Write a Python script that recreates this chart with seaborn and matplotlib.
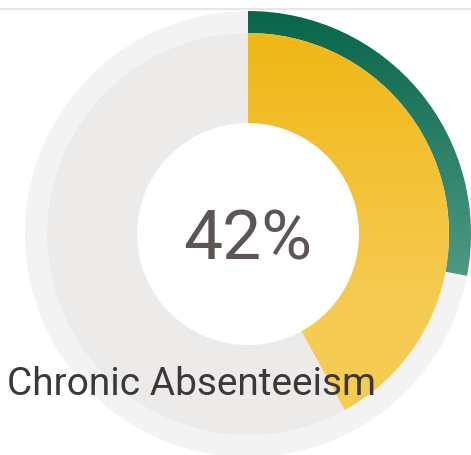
import numpy as np
import matplotlib
matplotlib.use("Agg")
import matplotlib.pyplot as plt
import seaborn as sns
from matplotlib.colors import LinearSegmentedColormap

# Data
metric_label = "Chronic Absenteeism"
metric_value = [42]          # inner ring (yellow), percent
comparison_value = [28]      # outer ring (green), percent
value_text = "42%"

sns.set_theme(style="white")
plt.rcParams["font.family"] = ["Roboto", "DejaVu Sans"]

W, H = 471, 456
fig = plt.figure(figsize=(W / 100, H / 100), dpi=100)
ax = fig.add_axes([0, 0, 1, 1])
ax.set_xlim(0, W)
ax.set_ylim(0, H)
ax.axis("off")

cx, cy = 248, H - 235
R_out, R_mid, R_in = 223, 201, 111

# pale outer track
ax.pie([100], radius=R_out, center=(cx, cy), colors=["#f4f3f4"],
       wedgeprops=dict(width=R_out - R_mid, linewidth=0), startangle=90)
# green outer arc
gw, _ = ax.pie([comparison_value[0], 100 - comparison_value[0]], radius=R_out,
               center=(cx, cy), colors=["none", "none"], startangle=90,
               counterclock=False,
               wedgeprops=dict(width=R_out - R_mid, linewidth=0))
# inner ring
iw, _ = ax.pie([metric_value[0], 100 - metric_value[0]], radius=R_mid,
               center=(cx, cy), colors=["none", "#ecebea"], startangle=90,
               counterclock=False,
               wedgeprops=dict(width=R_mid - R_in, linewidth=0))

def gradient_fill(wedge, top_color, bottom_color, y_top, y_bot):
    cmap = LinearSegmentedColormap.from_list("g", [bottom_color, top_color])
    ys = np.linspace(0, H, 512)
    grad = np.clip((ys - y_bot) / (y_top - y_bot), 0, 1).reshape(-1, 1)
    im = ax.imshow(grad, cmap=cmap, origin="lower", aspect="auto",
                   extent=[0, W, 0, H], zorder=wedge.get_zorder(),
                   vmin=0, vmax=1)
    im.set_clip_path(wedge)

gradient_fill(gw[0], "#07664a", "#4f9a85", H - 12, H - 280)
gradient_fill(iw[0], "#f0b715", "#f6cb52", H - 34, H - 300)

ax.set_xlim(0, W)
ax.set_ylim(0, H)
ax.set_aspect("auto")

# top rule line
ax.plot([0, W], [H - 9.5, H - 9.5], color="#e6e6e6", lw=1.5, solid_capstyle="butt")

ax.text(cx, cy - 5, value_text, ha="center", va="center", fontsize=50,
        color="#5d5553", fontweight="normal")
ax.text(7, H - 395, metric_label, ha="left", va="baseline", fontsize=28,
        color="#3b3838")

fig.savefig("out.png", dpi=100)
